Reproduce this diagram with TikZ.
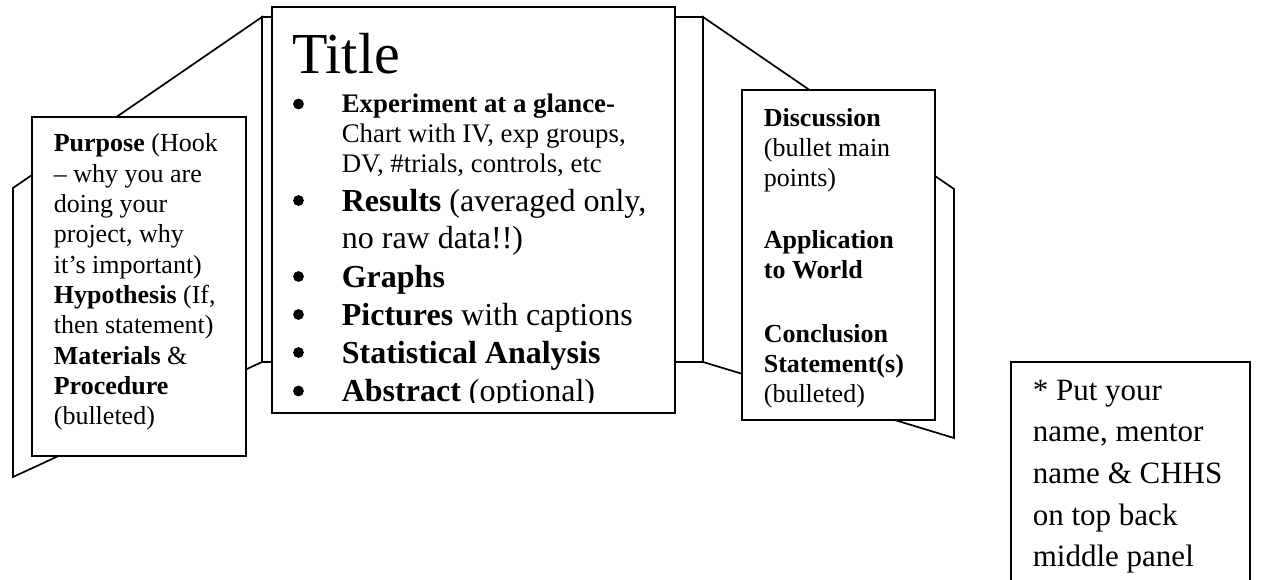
\documentclass[tikz,border=0pt]{standalone}
\usepackage{fontspec}
\setmainfont{Liberation Serif}
\begin{document}
\begin{tikzpicture}[x=1pt,y=-1pt,line width=1.7pt,line join=miter,
  panel/.style={draw=black,fill=white},
  txt/.style={anchor=base west,inner sep=0pt,font=\fontsize{26}{30}\selectfont},
  ctxt/.style={anchor=base west,inner sep=0pt,font=\fontsize{26.8}{30}\selectfont},
  cbig/.style={anchor=base west,inner sep=0pt,font=\fontsize{32}{36}\selectfont},
  big/.style={anchor=base west,inner sep=0pt,font=\fontsize{31}{36}\selectfont},
  dot/.style={circle,fill=black,draw=none,inner sep=0pt,minimum size=10.8pt},
  titlefont/.style={anchor=base west,inner sep=0pt,font=\fontsize{58}{62}\selectfont}]
\useasboundingbox (0,0) rectangle (1261,580);
\fill[white] (0,0) rectangle (1261,580);

% back panels of the board
\draw[panel] (262,17) rectangle (703,362);
\draw[panel] (13,188) -- (262,17) -- (262,362) -- (13,477) -- cycle;
\draw[panel] (703,17) -- (954,189) -- (954,438) -- (703,362) -- cycle;

% front boxes
\draw[panel] (32,117) rectangle (246,456);
\draw[panel] (272,7) rectangle (675,413);
\draw[panel] (742,90) rectangle (935,420);
\draw[panel] (1011,590) -- (1011,362) -- (1250,362) -- (1250,590);

% left box text
\node[txt] (l1) at (53,152) {\textbf{Purpose} (Hook};
\node[txt] (l2) at (53,182.3) {– why you are};
\node[txt] (l3) at (53,212.6) {doing your};
\node[txt] (l4) at (53,242.9) {project, why};
\node[txt] (l5) at (53,273.2) {it’s important)};
\node[txt] (l6) at (53,303.5) {\textbf{Hypothesis} (If,};
\node[txt] (l7) at (53,333.8) {then statement)};
\node[txt] (l8) at (53,364.1) {\textbf{Materials} \&};
\node[txt] (l9) at (53,394.4) {\textbf{Procedure}};
\node[txt] (l10) at (53,424.7) {(bulleted)};

% centre box text
\node[titlefont] (title) at (291.5,74) {Title};
\begin{scope}
\clip (273,8) rectangle (674,402.5);
\node[dot] (b1) at (298.5,104) {};
\node[ctxt] (c1) at (341,113) {\textbf{Experiment at a glance-}};
\node[ctxt] (c2) at (341,142.5) {Chart with IV, exp groups,};
\node[ctxt] (c3) at (341,173) {DV, \#trials, controls, etc};
\node[dot] (b2) at (298.5,200.5) {};
\node[cbig] (c4) at (341,211.7) {\textbf{Results} (averaged only,};
\node[cbig] (c5) at (341,248.3) {no raw data!!)};
\node[dot] (b3) at (298.5,276.5) {};
\node[cbig] (c6) at (341,287.3) {\textbf{Graphs}};
\node[dot] (b4) at (298.5,314.5) {};
\node[cbig] (c7) at (341,325) {\textbf{Pictures} with captions};
\node[dot] (b5) at (298.5,352.5) {};
\node[cbig] (c8) at (341,363.3) {\textbf{Statistical Analysis}};
\node[dot] (b6) at (298.5,391) {};
\node[cbig] (c9) at (341,401.7) {\textbf{Abstract} (optional)};
\end{scope}

% right box text
\node[txt] (r1) at (763,127) {\textbf{Discussion}};
\node[txt] (r2) at (763,157) {(bullet main};
\node[txt] (r3) at (763,187) {points)};
\node[txt] (r4) at (763,248) {\textbf{Application}};
\node[txt] (r5) at (763,278) {\textbf{to World}};
\node[txt] (r6) at (763,342) {\textbf{Conclusion}};
\node[txt] (r7) at (763,372) {\textbf{Statement(s)}};
\node[txt] (r8) at (763,402) {(bulleted)};

% far right note
\node[big] (n1) at (1032,400) {* Put your};
\node[big] (n2) at (1032,441.7) {name, mentor};
\node[big] (n3) at (1032,483.3) {name \& CHHS};
\node[big] (n4) at (1032,525) {on top back};
\node[big] (n5) at (1032,566.7) {middle panel};
\end{tikzpicture}
\end{document}
